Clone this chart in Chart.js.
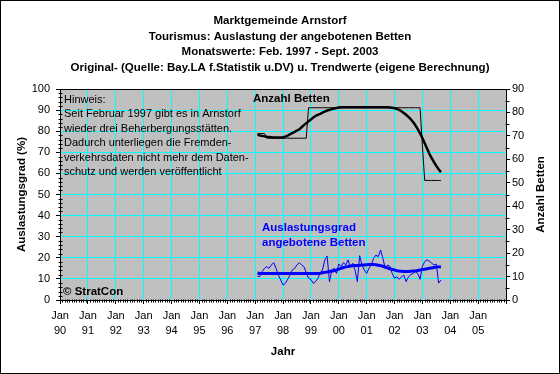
<!DOCTYPE html>
<html>
<head>
<meta charset="utf-8">
<script src="https://cdn.jsdelivr.net/npm/chart.js@4.4.0/dist/chart.umd.min.js"></script>
<style>
  html, body { margin: 0; padding: 0; background: #fff; }
</style>
</head>
<body>
<canvas id="chart" width="560" height="374"></canvas>
<script>
// months counted from Jan 1990; first value is Feb 1997, last Sep 2003
var startMonth = 85;
var yearLabels = ['90', '91', '92', '93', '94', '95', '96', '97', '98', '99', '00', '01', '02', '03', '04', '05'];

// Auslastungsgrad (%) - monthly original values
var auslastung = [
  11.3, 11.1, 13.4, 15.0, 15.8, 15.0, 16.6, 17.7, 15.0, 11.8, 9.5,
  7.1, 7.9, 9.8, 11.8, 14.2, 15.0, 16.6, 17.7, 16.6, 15.8, 13.0, 10.3,
  9.8, 7.9, 8.7, 10.3, 12.6, 14.2, 19.0, 20.8, 8.7, 14.2, 15.0, 12.6,
  17.1, 15.8, 17.7, 16.6, 19.0, 15.5, 17.4, 14.2, 8.7, 21.0, 16.6, 14.2,
  12.6, 15.0, 16.6, 19.8, 21.3, 20.5, 23.7, 19.8, 15.0, 16.6, 16.0, 12.6,
  10.3, 11.0, 9.8, 11.0, 11.8, 8.7, 11.0, 12.0, 12.6, 13.4, 12.6, 9.8,
  16.0, 18.2, 19.0, 18.4, 17.5, 16.6, 17.0, 8.0, 9.5
];
// Auslastungsgrad - trend
var auslastungTrend = [
  12.8, 12.6, 12.6, 12.6, 12.6, 12.6, 12.6, 12.6, 12.6, 12.6, 12.6,
  12.6, 12.6, 12.6, 12.6, 12.6, 12.6, 12.6, 12.6, 12.6, 12.6, 12.6, 12.6,
  12.6, 12.6, 12.6, 12.6, 12.7, 12.9, 13.1, 13.3, 13.5, 13.7, 13.9, 14.2,
  14.6, 15.0, 15.4, 15.7, 15.9, 16.1, 16.2, 16.3, 16.4, 16.5, 16.6, 16.6,
  16.7, 16.8, 16.8, 16.8, 16.7, 16.5, 16.3, 16.0, 15.6, 15.2, 14.8, 14.5,
  14.2, 13.9, 13.7, 13.6, 13.5, 13.5, 13.5, 13.6, 13.7, 13.8, 14.0, 14.2,
  14.4, 14.6, 14.8, 15.0, 15.2, 15.4, 15.6, 15.7, 15.8
];
// Anzahl Betten - monthly original values
var betten = [
  71, 71, 71, 71, 69, 69, 69, 69, 69, 69, 69,
  69, 69, 69, 69, 69, 69, 69, 69, 69, 69, 69, 82,
  82, 82, 82, 82, 82, 82, 82, 82, 82, 82, 82, 82,
  82, 82, 82, 82, 82, 82, 82, 82, 82, 82, 82, 82,
  82, 82, 82, 82, 82, 82, 82, 82, 82, 82, 82, 82,
  82, 82, 82, 82, 82, 82, 82, 82, 82, 82, 82, 82,
  66, 51, 51, 51, 51, 51, 51, 51, 51
];
// Anzahl Betten - trend
var bettenTrend = [
  70.5, 70.2, 70.0, 69.8, 69.6, 69.5, 69.4, 69.3, 69.3, 69.3, 69.3,
  69.4, 69.7, 70.1, 70.7, 71.2, 71.7, 72.3, 72.8, 73.7, 74.6, 75.4, 76.2,
  77.0, 77.8, 78.5, 79.0, 79.4, 79.9, 80.4, 80.8, 81.1, 81.4, 81.7, 81.9,
  82.1, 82.2, 82.2, 82.2, 82.2, 82.2, 82.2, 82.2, 82.2, 82.2, 82.2, 82.2,
  82.2, 82.2, 82.2, 82.2, 82.2, 82.2, 82.2, 82.2, 82.2, 82.2, 82.1, 82.0,
  81.8, 81.5, 81.1, 80.5, 79.8, 79.0, 78.1, 77.1, 75.9, 74.5, 72.9, 71.1,
  69.1, 66.9, 64.6, 62.4, 60.5, 58.8, 57.2, 55.8, 54.5
];

var titleLines = [
  'Marktgemeinde Arnstorf',
  'Tourismus: Auslastung der angebotenen Betten',
  'Monatswerte: Feb. 1997 - Sept. 2003',
  'Original- (Quelle: Bay.LA f.Statistik u.DV) u. Trendwerte (eigene Berechnung)'
];
var hinweis = [
  'Hinweis:',
  'Seit Februar 1997 gibt es in Arnstorf',
  'wieder drei Beherbergungsstätten.',
  'Dadurch unterliegen die Fremden-',
  'verkehrsdaten nicht mehr dem Daten-',
  'schutz und werden veröffentlicht'
];

var FONT = '"Liberation Sans", Arial, sans-serif';

function points(values) {
  return values.map(function (v, i) { return { x: startMonth + i, y: v }; });
}

var decor = {
  id: 'decor',
  beforeDraw: function (chart) {
    var ctx = chart.ctx, a = chart.chartArea;
    ctx.save();
    ctx.fillStyle = '#ffffff';
    ctx.fillRect(0, 0, chart.width, chart.height);
    ctx.fillStyle = '#c0c0c0';
    ctx.fillRect(a.left, a.top, a.right - a.left, a.bottom - a.top);
    ctx.restore();
  },
  afterDraw: function (chart) {
    var ctx = chart.ctx, a = chart.chartArea;
    var sx = chart.scales.x, sl = chart.scales.yL, sr = chart.scales.yR;
    var L = Math.round(a.left) + 0.5, R = Math.round(a.right) + 0.5;
    var T = Math.round(a.top) + 0.5, B = Math.round(a.bottom) + 0.5;
    ctx.save();
    ctx.strokeStyle = '#000';
    ctx.lineWidth = 1;
    ctx.strokeRect(L, T, R - L, B - T);
    ctx.strokeRect(0.5, 0.5, chart.width - 1, chart.height - 1);

    // minor ticks
    ctx.beginPath();
    var m, p;
    for (m = 1; m < 192; m++) {
      if (m % 12 === 0) continue;
      p = Math.round(sx.getPixelForValue(m)) + 0.5;
      ctx.moveTo(p, B - 1); ctx.lineTo(p, B + 2);
    }
    for (m = 2; m < 100; m += 2) {
      if (m % 10 === 0) continue;
      p = Math.round(sl.getPixelForValue(m)) + 0.5;
      ctx.moveTo(L - 2, p); ctx.lineTo(L + 2, p);
    }
    for (m = 5; m < 90; m += 10) {
      p = Math.round(sr.getPixelForValue(m)) + 0.5;
      ctx.moveTo(R - 1, p); ctx.lineTo(R + 3, p);
    }
    ctx.stroke();

    ctx.textBaseline = 'middle';
    ctx.textAlign = 'left';
    ctx.fillStyle = '#000';
    ctx.font = '11px ' + FONT;
    hinweis.forEach(function (line, i) {
      ctx.fillText(line, 64, 99.5 + i * 14.5);
    });
    ctx.font = 'bold 11.5px ' + FONT;
    ctx.fillText('Anzahl Betten', 253, 98.5);
    ctx.fillText('\u00a9 StratCon', 63, 291.5);
    ctx.fillStyle = '#0000ff';
    ctx.fillText('Auslastungsgrad', 262, 227.5);
    ctx.fillText('angebotene Betten', 262, 242.5);

    // right axis title, reading bottom to top
    ctx.fillStyle = '#000';
    ctx.translate(541, (a.top + a.bottom) / 2);
    ctx.rotate(-Math.PI / 2);
    ctx.textAlign = 'center';
    ctx.fillText('Anzahl Betten', 0, 0);
    ctx.restore();
  }
};

new Chart(document.getElementById('chart'), {
  type: 'line',
  data: {
    datasets: [
      { label: 'Auslastungsgrad Trend', data: points(auslastungTrend), yAxisID: 'yL',
        borderColor: '#0000ff', borderWidth: 3, order: 0 },
      { label: 'Auslastungsgrad', data: points(auslastung), yAxisID: 'yL',
        borderColor: '#0000ff', borderWidth: 1, order: 1 },
      { label: 'Betten Trend', data: points(bettenTrend), yAxisID: 'yR',
        borderColor: '#000000', borderWidth: 2.5, order: 0 },
      { label: 'Betten', data: points(betten), yAxisID: 'yR',
        borderColor: '#000000', borderWidth: 1, order: 1 }
    ]
  },
  options: {
    responsive: false,
    animation: false,
    devicePixelRatio: 1,
    layout: { padding: 0 },
    elements: {
      point: { radius: 0, hoverRadius: 0 },
      line: { tension: 0, fill: false, borderCapStyle: 'butt', borderJoinStyle: 'round' }
    },
    plugins: {
      legend: { display: false },
      tooltip: { enabled: false },
      title: {
        display: true,
        text: titleLines,
        color: '#000',
        font: { family: FONT, size: 11.5, weight: 'bold', lineHeight: '15.6px' },
        padding: { top: 13, bottom: 13.6 }
      }
    },
    scales: {
      x: {
        type: 'linear', position: 'bottom', min: 0, max: 192,
        afterFit: function (s) { s.height = 74; },
        border: { display: false },
        grid: { color: '#00ffff', tickColor: '#000', tickLength: 4 },
        ticks: {
          stepSize: 12, autoSkip: false, maxRotation: 0, minRotation: 0,
          color: '#000', padding: 5,
          font: { family: FONT, size: 11, lineHeight: '14.5px' },
          callback: function (v) {
            if (v % 12 !== 0 || v >= 192) return '';
            return ['Jan', yearLabels[v / 12]];
          }
        },
        title: {
          display: true, text: 'Jahr', color: '#000',
          font: { family: FONT, size: 11.5, weight: 'bold' },
          padding: { top: 0, bottom: 15 }
        }
      },
      yL: {
        type: 'linear', position: 'left', min: 0, max: 100,
        afterFit: function (s) { s.width = 60; },
        border: { display: false },
        grid: { color: '#00ffff', tickColor: '#000', tickLength: 4 },
        ticks: { stepSize: 10, color: '#000', padding: 6, font: { family: FONT, size: 11 } },
        title: {
          display: true, text: 'Auslastungsgrad (%)', color: '#000',
          font: { family: FONT, size: 11.5, weight: 'bold' },
          padding: { top: 14.5, bottom: 0 }
        }
      },
      yR: {
        type: 'linear', position: 'right', min: 0, max: 90,
        afterFit: function (s) { s.width = 54; },
        border: { display: false },
        grid: { drawOnChartArea: false, tickColor: '#000', tickLength: 4 },
        ticks: { stepSize: 10, color: '#000', padding: 2, font: { family: FONT, size: 11 } }
      }
    }
  },
  plugins: [decor]
});
</script>
</body>
</html>
